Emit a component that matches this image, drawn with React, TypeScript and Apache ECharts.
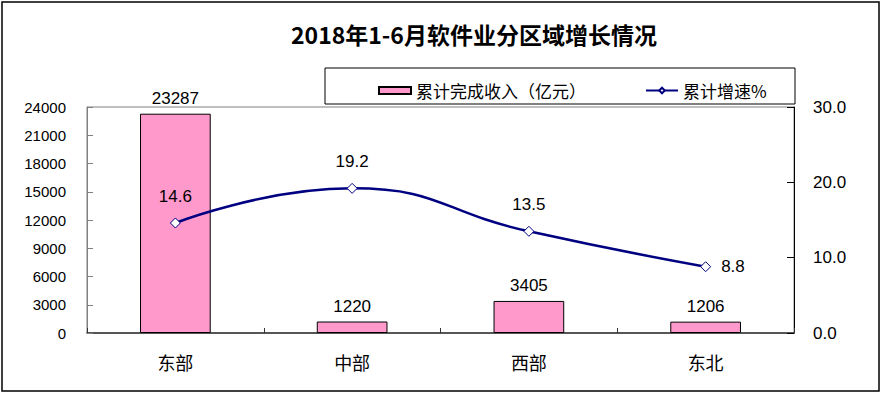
import React, { useEffect, useRef } from "react";
import * as echarts from "echarts";

const categories = ["东部", "中部", "西部", "东北"];
const revenue = [23287, 1220, 3405, 1206];
const growth = [14.6, 19.2, 13.5, 8.8];
const titleText = "2018年1-6月软件业分区域增长情况";
const barName = "累计完成收入（亿元）";
const lineName = "累计增速%";

const FONT = "'Liberation Sans', Arial, 'Noto Sans CJK SC', sans-serif";

export default function App() {
  const ref = useRef<HTMLDivElement>(null);
  useEffect(() => {
    if (!ref.current) return;
    document.body.style.margin = "0";
    const chart = echarts.init(ref.current, null, { renderer: "svg" });
    const lineData = growth.map((v, i) =>
      i === growth.length - 1
        ? { value: v, label: { position: "right", distance: 10 } }
        : v
    );
    chart.setOption({
      animation: false,
      backgroundColor: "#fff",
      textStyle: { fontFamily: FONT },
      title: {
        text: titleText,
        left: 286,
        top: 17,
        textStyle: {
          fontFamily: "'Noto Sans CJK SC', sans-serif",
          fontSize: 23,
          fontWeight: "bold",
          color: "#000",
        },
      },
      graphic: [
        {
          type: "rect",
          shape: { x: 2, y: 2, width: 877, height: 389 },
          style: { fill: "none", stroke: "#000", lineWidth: 1.5 },
          silent: true,
        },
        {
          type: "rect",
          shape: { x: 325, y: 68, width: 470, height: 36 },
          style: { fill: "#fff", stroke: "#000", lineWidth: 1 },
          z: 10,
          silent: true,
        },
      ],
      legend: {
        left: 373,
        top: 77,
        itemGap: 59,
        itemWidth: 32,
        itemHeight: 7,
        z: 20,
        textStyle: {
          fontFamily: "'Noto Sans CJK SC', sans-serif",
          fontSize: 17,
          color: "#000",
        },
        data: [
          { name: barName, icon: "rect" },
          { name: lineName },
        ],
      },
      grid: {
        left: 87,
        right: 89,
        top: 107,
        bottom: 63,
        show: true,
        borderColor: "#808080",
        borderWidth: 1,
      },
      xAxis: {
        type: "category",
        data: categories,
        axisLine: { lineStyle: { color: "#333", width: 1.5 } },
        axisTick: { show: true, inside: true, length: 5, lineStyle: { color: "#333" } },
        axisLabel: {
          margin: 20,
          fontSize: 18,
          color: "#000",
          fontFamily: "'Noto Sans CJK SC', sans-serif",
        },
      },
      yAxis: [
        {
          type: "value",
          min: 0,
          max: 24000,
          interval: 3000,
          splitLine: { show: false },
          axisLine: { show: true, lineStyle: { color: "#808080" } },
          axisTick: { show: true, inside: true, length: 6, lineStyle: { color: "#808080" } },
          axisLabel: {
            margin: 21,
            fontSize: 15,
            color: "#000",
            fontFamily: FONT,
            formatter: (v: number) => String(v),
          },
        },
        {
          type: "value",
          min: 0,
          max: 30,
          interval: 10,
          position: "right",
          splitLine: { show: false },
          axisLine: { show: true, lineStyle: { color: "#000" } },
          axisTick: { show: true, inside: true, length: 7, lineStyle: { color: "#000" } },
          axisLabel: {
            margin: 19,
            fontSize: 17,
            color: "#000",
            fontFamily: FONT,
            formatter: (v: number) => v.toFixed(1),
          },
        },
      ],
      series: [
        {
          name: barName,
          type: "bar",
          data: revenue,
          barWidth: "40%",
          itemStyle: { color: "#FF99CC", borderColor: "#000", borderWidth: 1 },
          label: {
            show: true,
            position: "top",
            distance: 7,
            fontSize: 17,
            color: "#000",
            fontFamily: FONT,
          },
        },
        {
          name: lineName,
          type: "line",
          yAxisIndex: 1,
          data: lineData,
          smooth: 0.5,
          symbol: "diamond",
          symbolSize: 10,
          lineStyle: { color: "#000080", width: 2.5 },
          itemStyle: { color: "#fff", borderColor: "#000080", borderWidth: 1 },
          label: {
            show: true,
            position: "top",
            distance: 13,
            fontSize: 17,
            color: "#000",
            fontFamily: FONT,
            formatter: (p: any) => Number(p.value).toFixed(1),
          },
          z: 5,
        },
      ],
    });
    return () => chart.dispose();
  }, []);
  return (
    <div
      ref={ref}
      style={{ position: "fixed", left: 0, top: 0, width: 883, height: 396 }}
    />
  );
}
